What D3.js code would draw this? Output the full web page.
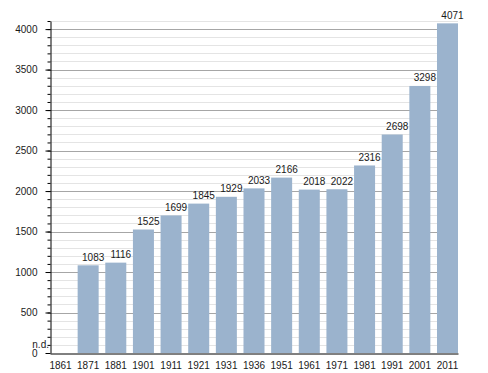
<!DOCTYPE html>
<html>
<head>
<meta charset="utf-8">
<script src="https://cdn.jsdelivr.net/npm/d3@7"></script>
<style>
  body { margin: 0; background: #fff; }
  text { font-family: "Liberation Sans", Arial, sans-serif; font-size: 10px; fill: #1a1a1a; }
</style>
</head>
<body>
<script>
// census years and population (null = no data)
var years = ["1861","1871","1881","1901","1911","1921","1931","1936","1951","1961","1971","1981","1991","2001","2011"];
var population = [null,1083,1116,1525,1699,1845,1929,2033,2166,2018,2022,2316,2698,3298,4071];
var majorTicks = [0,500,1000,1500,2000,2500,3000,3500,4000];
var minorTicks = d3.range(100, 4200, 100);

var width = 488, height = 373;
var plotLeft = 50, plotRight = 458, plotTop = 21, plotBottom = 353;

var svg = d3.select("body").append("svg")
  .attr("width", width)
  .attr("height", height);

var x = d3.scaleBand()
  .domain(years)
  .range([plotLeft, plotRight])
  .paddingInner(0.24)
  .paddingOuter(0);

var y = d3.scaleLinear()
  .domain([0, 4100])
  .range([plotBottom, plotTop]);

// minor grid
svg.append("g").selectAll("line")
  .data(minorTicks.filter(function(d){ return d % 500 != 0; }))
  .enter().append("line")
  .attr("x1", plotLeft).attr("x2", plotRight)
  .attr("y1", function(d){ return Math.round(y(d)) + 0.5; })
  .attr("y2", function(d){ return Math.round(y(d)) + 0.5; })
  .attr("stroke", "#e4e4e4");

// major grid
svg.append("g").selectAll("line")
  .data(majorTicks.slice(1))
  .enter().append("line")
  .attr("x1", plotLeft).attr("x2", plotRight)
  .attr("y1", function(d){ return Math.round(y(d)) + 0.5; })
  .attr("y2", function(d){ return Math.round(y(d)) + 0.5; })
  .attr("stroke", "#a6a6a6");

// bars
var data = years.map(function(d, i){ return {year: d, value: population[i]}; });

svg.append("g").selectAll("rect")
  .data(data.filter(function(d){ return d.value != null; }))
  .enter().append("rect")
  .attr("x", function(d){ return x(d.year); })
  .attr("width", x.bandwidth())
  .attr("y", function(d){ return y(d.value); })
  .attr("height", function(d){ return y(0) - y(d.value); })
  .attr("fill", "#9bb3cd");

// value labels
svg.append("g").selectAll("text")
  .data(data)
  .enter().append("text")
  .attr("x", function(d){
    return d.value == null ? x(d.year) - 1 : x(d.year) + x.bandwidth() / 2 + 5;
  })
  .attr("y", function(d){
    return d.value == null ? y(0) - 5.5 : y(d.value) - 4.5;
  })
  .attr("text-anchor", function(d){ return d.value == null ? "end" : "middle"; })
  .text(function(d){ return d.value == null ? "n.d." : d.value; });

// y axis
var yMinor = d3.axisLeft(y).tickValues(minorTicks).tickSize(3).tickFormat("");
svg.append("g")
  .attr("transform", "translate(" + (plotLeft + 0.5) + ",0)")
  .call(yMinor)
  .call(function(g){ g.select(".domain").remove(); })
  .selectAll("line").attr("stroke", "#000");

var yAxis = d3.axisLeft(y).tickValues(majorTicks).tickSize(5).tickPadding(8)
  .tickSizeOuter(0).tickFormat(d3.format("d"));
var gy = svg.append("g")
  .attr("transform", "translate(" + (plotLeft + 0.5) + ",0)")
  .call(yAxis);
gy.select(".domain").attr("stroke", "#000");
gy.selectAll("text").attr("font-size", null).attr("font-family", null);

// x axis
var xAxis = d3.axisBottom(x).tickSize(0).tickPadding(8).tickSizeOuter(0);
var gx = svg.append("g")
  .attr("transform", "translate(0," + (plotBottom + 0.5) + ")")
  .call(xAxis);
gx.select(".domain").attr("stroke", "#000");
gx.selectAll("text").attr("font-size", null).attr("font-family", null);
</script>
</body>
</html>
